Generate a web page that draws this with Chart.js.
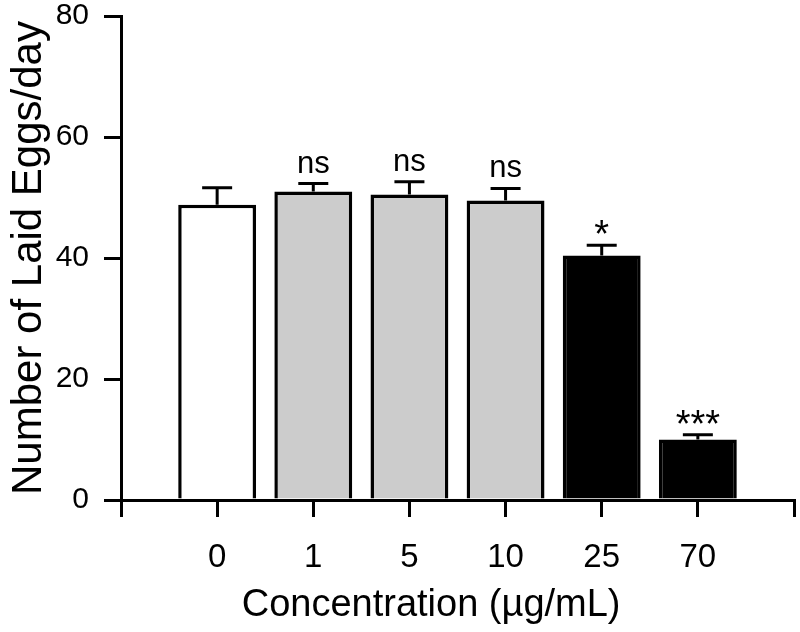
<!DOCTYPE html>
<html>
<head>
<meta charset="utf-8">
<script src="https://cdn.jsdelivr.net/npm/chart.js@4/dist/chart.umd.min.js"></script>
<style>
  body { margin: 0; background: #fff; }
  #wrap { width: 800px; height: 632px; }
</style>
</head>
<body>
<div id="wrap"><canvas id="chart" width="800" height="632"></canvas></div>
<script>
// Dados
const concentrations = ['0', '1', '5', '10', '25', '70'];
const meanEggs = [48.8, 51.0, 50.5, 49.5, 40.4, 10.0];
const semEggs = [2.8, 1.3, 2.1, 2.0, 1.7, 0.8];
const significance = ['', 'ns', 'ns', 'ns', '*', '***'];
const yTicks = [0, 20, 40, 60, 80];

const FONT = '"Liberation Sans", Arial, sans-serif';
const barColors = ['#ffffff', '#cccccc', '#cccccc', '#cccccc', '#000000', '#000000'];

// eixo x com uma posição vazia em cada ponta (marcas nas extremidades)
const labels = [''].concat(concentrations, ['']);
const barData = [null].concat(meanEggs, [null]);

// Barras de erro (só a parte de cima) e marcas de significância
const errorBarPlugin = {
  id: 'errorBars',
  afterDatasetsDraw(chart) {
    const { ctx, scales: { y } } = chart;
    const meta = chart.getDatasetMeta(0);
    ctx.save();
    ctx.strokeStyle = '#000';
    ctx.fillStyle = '#000';
    ctx.lineWidth = 3;
    ctx.textAlign = 'center';
    ctx.textBaseline = 'alphabetic';
    meanEggs.forEach((m, i) => {
      const bar = meta.data[i + 1];
      const px = bar.x;
      const top = y.getPixelForValue(m);
      const capY = y.getPixelForValue(m + semEggs[i]);
      ctx.beginPath();
      ctx.moveTo(px, top);
      ctx.lineTo(px, capY);
      ctx.moveTo(px - 15, capY);
      ctx.lineTo(px + 15, capY);
      ctx.stroke();

      const txt = significance[i];
      if (txt) {
        ctx.font = (txt.indexOf('*') >= 0 ? '38px ' : '31px ') + FONT;
        const desc = ctx.measureText(txt).actualBoundingBoxDescent || 0;
        ctx.fillText(txt, px, capY - 11 - desc);
      }
    });
    ctx.restore();
  }
};

new Chart(document.getElementById('chart').getContext('2d'), {
  type: 'bar',
  data: {
    labels: labels,
    datasets: [{
      data: barData,
      backgroundColor: [null].concat(barColors, [null]),
      borderColor: '#000',
      borderWidth: 3.5,
      categoryPercentage: 1,
      barPercentage: 0.81
    }]
  },
  options: {
    responsive: false,
    animation: false,
    layout: { padding: { top: 16, right: 6, left: 0, bottom: 0 } },
    plugins: { legend: { display: false }, tooltip: { enabled: false } },
    scales: {
      x: {
        type: 'category',
        offset: false,
        grid: { offset: false, drawOnChartArea: false, drawTicks: true, tickLength: 17, color: '#000', lineWidth: 3 },
        border: { display: true, color: '#000', width: 3 },
        ticks: { color: '#000', font: { family: FONT, size: 33 }, padding: 21, autoSkip: false, maxRotation: 0 },
        title: {
          display: true,
          // espaços no fim deslocam o título um pouco para a esquerda, como no original
          text: 'Concentration (µg/mL)\u00a0\u00a0\u00a0\u00a0\u00a0',
          color: '#000',
          font: { family: FONT, size: 38 },
          padding: { top: 0, bottom: 4 }
        },
        afterFit(scale) {
          scale.height = 132;
          scale.paddingLeft = 0;
          scale.paddingRight = 0;
        }
      },
      y: {
        min: 0,
        max: 80,
        afterBuildTicks(scale) { scale.ticks = yTicks.map(v => ({ value: v })); },
        grid: { drawOnChartArea: false, drawTicks: true, tickLength: 17, color: '#000', lineWidth: 3 },
        border: { display: true, color: '#000', width: 3 },
        ticks: { color: '#000', font: { family: FONT, size: 30 }, padding: 15 },
        title: {
          display: true,
          text: 'Number of Laid Eggs/day',
          color: '#000',
          font: { family: FONT, size: 42 },
          padding: { top: 4, bottom: 0 }
        },
        afterFit(scale) {
          scale.width = 121;
          scale.paddingTop = 0;
          scale.paddingBottom = 0;
        }
      }
    }
  },
  plugins: [errorBarPlugin]
});
</script>
</body>
</html>
